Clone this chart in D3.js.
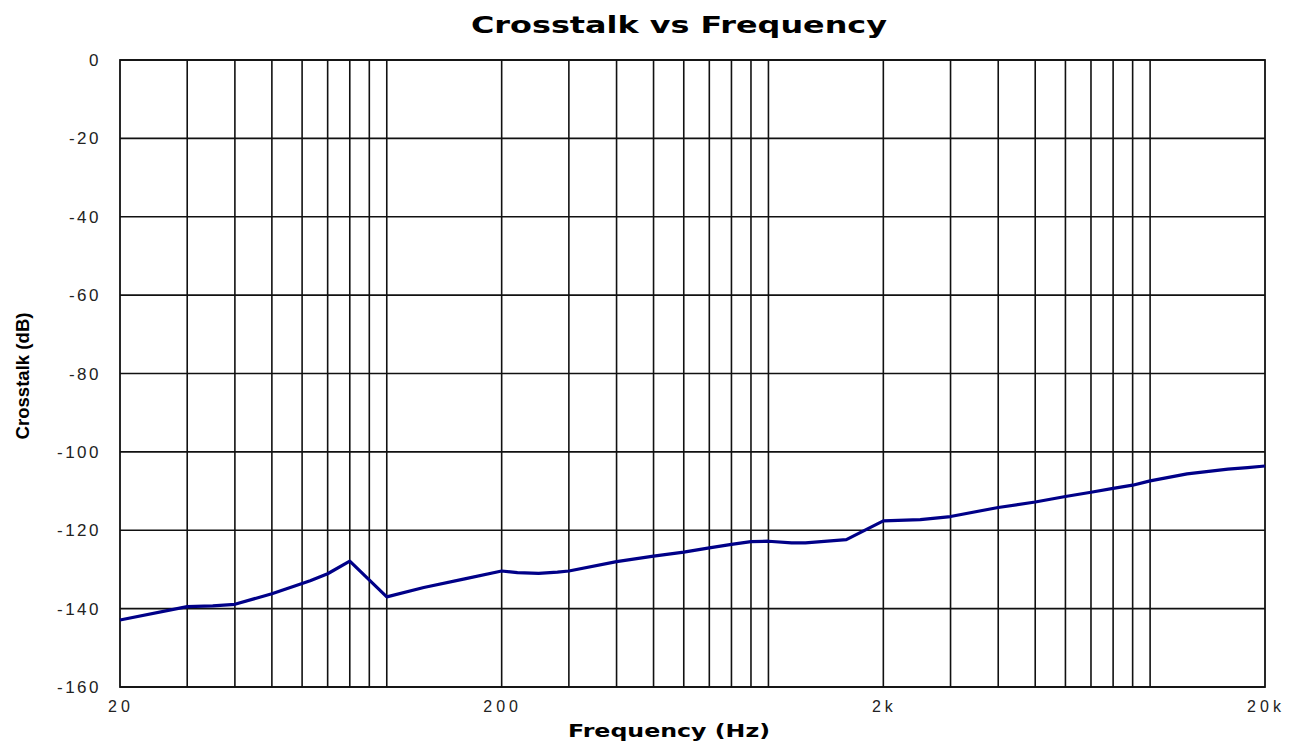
<!DOCTYPE html>
<html>
<head>
<meta charset="utf-8">
<script src="https://cdn.jsdelivr.net/npm/d3@7"></script>
<style>
  body { margin: 0; background: #fff; }
  svg { display: block; }
</style>
</head>
<body>
<div id="chart"></div>
<script>
const freqs = [20, 30, 35, 40, 50, 63, 70, 80, 100, 125, 160, 200, 220, 250, 280, 300, 400, 500, 600, 700, 800, 900, 1000, 1150, 1250, 1600, 2000, 2500, 3000, 4000, 5000, 6000, 7000, 8000, 9000, 10000, 12500, 16000, 18000, 20000]
const crosstalk = [-142.9, -139.5, -139.3, -138.9, -136.2, -132.9, -131.1, -127.9, -137.0, -134.6, -132.4, -130.4, -130.8, -131.0, -130.7, -130.4, -128.0, -126.6, -125.6, -124.5, -123.6, -122.9, -122.8, -123.2, -123.2, -122.4, -117.6, -117.3, -116.5, -114.2, -112.8, -111.4, -110.3, -109.3, -108.5, -107.4, -105.6, -104.4, -104.0, -103.6]
const yTicks = [0, -20, -40, -60, -80, -100, -120, -140, -160]
const xLabels = [[20, '20'], [200, '200'], [2000, '2k'], [20000, '20k']]

const width = 1289, height = 744
const margin = { top: 60, right: 24, bottom: 57, left: 120 }

const svg = d3.select('#chart').append('svg')
  .attr('width', width).attr('height', height)

const x = d3.scaleLog().domain([20, 20000]).range([margin.left, width - margin.right])
const y = d3.scaleLinear().domain([-160, 0]).range([height - margin.bottom, margin.top])

// vertical grid: every 1..9 x 10^n inside the range
const gridX = []
for (let p = 1; p <= 4; p++) {
  for (let k = 1; k <= 9; k++) {
    const f = k * Math.pow(10, p)
    if (f > 20 && f < 20000) gridX.push(f)
  }
}

svg.append('g').selectAll('line')
  .data(gridX)
  .join('line')
  .attr('x1', d => x(d)).attr('x2', d => x(d))
  .attr('y1', y(0)).attr('y2', y(-160))
  .attr('stroke', '#111').attr('stroke-width', 1.6)

svg.append('g').selectAll('line')
  .data(yTicks)
  .join('line')
  .attr('x1', x(20)).attr('x2', x(20000))
  .attr('y1', d => y(d)).attr('y2', d => y(d))
  .attr('stroke', '#111').attr('stroke-width', 1.6)

svg.append('rect')
  .attr('x', x(20)).attr('y', y(0))
  .attr('width', x(20000) - x(20)).attr('height', y(-160) - y(0))
  .attr('fill', 'none').attr('stroke', '#111').attr('stroke-width', 1.8)

// y tick labels
svg.append('g').selectAll('text')
  .data(yTicks)
  .join('text')
  .attr('x', 101).attr('y', d => y(d) + 6)
  .attr('text-anchor', 'end')
  .attr('font-family', 'Liberation Sans, Arial, sans-serif')
  .attr('font-size', 17).attr('letter-spacing', 2.5).attr('fill', '#222')
  .text(d => d)

// x tick labels
svg.append('g').selectAll('text')
  .data(xLabels)
  .join('text')
  .attr('x', d => x(d[0]) + 1).attr('y', 712)
  .attr('text-anchor', 'middle')
  .attr('font-family', 'Liberation Sans, Arial, sans-serif')
  .attr('font-size', 16).attr('letter-spacing', 4).attr('fill', '#222')
  .text(d => d[1])

const line = d3.line()
  .x((d, i) => x(freqs[i]))
  .y(d => y(d))

svg.append('path')
  .datum(crosstalk)
  .attr('d', line)
  .attr('fill', 'none')
  .attr('stroke', '#000088')
  .attr('stroke-width', 3.2)
  .attr('stroke-linejoin', 'round')

svg.append('text')
  .attr('x', 679).attr('y', 33)
  .attr('text-anchor', 'middle')
  .attr('font-family', 'DejaVu Sans, Verdana, sans-serif')
  .attr('font-weight', 'bold').attr('font-size', 23)
  .attr('textLength', 416).attr('lengthAdjust', 'spacingAndGlyphs')
  .text('Crosstalk vs Frequency')

svg.append('text')
  .attr('x', 669).attr('y', 737)
  .attr('text-anchor', 'middle')
  .attr('font-family', 'DejaVu Sans, Verdana, sans-serif')
  .attr('font-weight', 'bold').attr('font-size', 18)
  .attr('textLength', 202).attr('lengthAdjust', 'spacingAndGlyphs')
  .text('Frequency (Hz)')

svg.append('text')
  .attr('transform', 'translate(29,376) rotate(-90)')
  .attr('text-anchor', 'middle')
  .attr('font-family', 'Liberation Sans, Arial, sans-serif')
  .attr('font-weight', 'bold').attr('font-size', 19)
  .attr('textLength', 127).attr('lengthAdjust', 'spacingAndGlyphs')
  .text('Crosstalk (dB)')
</script>
</body>
</html>
